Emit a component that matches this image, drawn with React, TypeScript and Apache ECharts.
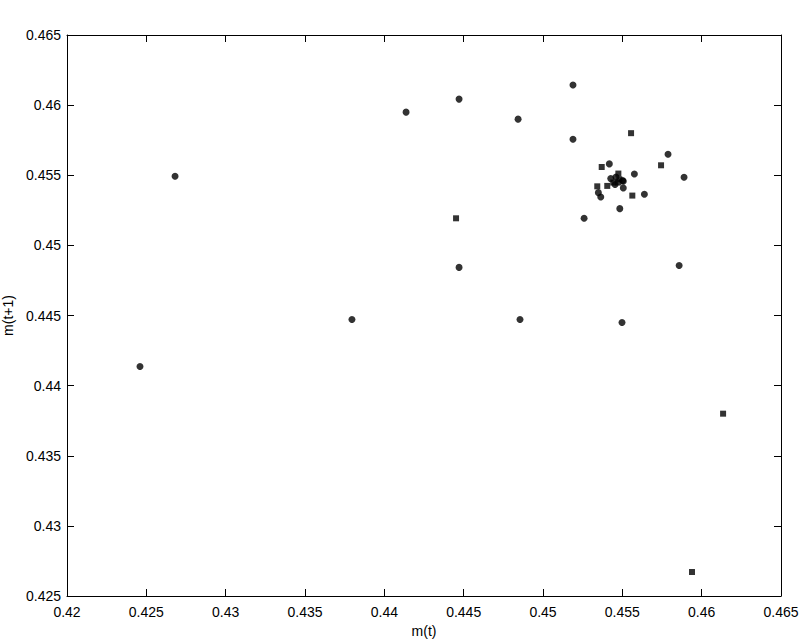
import React, { useEffect, useRef } from "react";
import * as echarts from "echarts";

const xTicks = [0.42, 0.425, 0.43, 0.435, 0.44, 0.445, 0.45, 0.455, 0.46, 0.465];
const yTicks = [0.425, 0.43, 0.435, 0.44, 0.445, 0.45, 0.455, 0.46, 0.465];

// Points drawn as round dots: [m(t), m(t+1)]
const roundPoints: number[][] = [
  [0.4246, 0.44136],
  [0.42681, 0.45493],
  [0.43796, 0.44471],
  [0.44137, 0.4595],
  [0.44471, 0.46043],
  [0.44471, 0.44843],
  [0.44843, 0.459],
  [0.44855, 0.44471],
  [0.45189, 0.46143],
  [0.45189, 0.45757],
  [0.45259, 0.45193],
  [0.45498, 0.4445],
  [0.45788, 0.4565],
  [0.45889, 0.45486],
  [0.45858, 0.44857],
  [0.45418, 0.45581],
  [0.45576, 0.45509],
  [0.45349, 0.45376],
  [0.45364, 0.45345],
  [0.45506, 0.45409],
  [0.45639, 0.45364],
  [0.45484, 0.45262],
  [0.45427, 0.45476],
  [0.4546, 0.45488],
  [0.45502, 0.45462],
  [0.45454, 0.45434],
  [0.45506, 0.45457],
];

// Points drawn as small squares: [m(t), m(t+1)]
const squarePoints: number[][] = [
  [0.44452, 0.45193],
  [0.45555, 0.458],
  [0.45744, 0.45571],
  [0.46135, 0.438],
  [0.45939, 0.42671],
  [0.4537, 0.45559],
  [0.45475, 0.45512],
  [0.45342, 0.45421],
  [0.45405, 0.45424],
  [0.45563, 0.45355],
  [0.45443, 0.45448],
  [0.45481, 0.45471],
  [0.45475, 0.45448],
];

const xLabel = "m(t)";
const yLabel = "m(t+1)";

const font = "'Liberation Sans', Arial, Helvetica, sans-serif";

export default function App() {
  const ref = useRef<HTMLDivElement>(null);
  useEffect(() => {
    if (!ref.current) return;
    const chart = echarts.init(ref.current, undefined, { renderer: "svg", width: 807, height: 639 });
    const fmt = (v: number) => String(Math.round(v * 10000) / 10000);
    const axisLine = { show: true, onZero: false, lineStyle: { color: "#000", width: 1 } };
    const tickIn = { show: true, inside: true, length: 7, lineStyle: { color: "#000", width: 1 } };
    chart.setOption({
      animation: false,
      backgroundColor: "#fff",
      grid: {
        left: 67,
        right: 26,
        top: 35,
        bottom: 43,
        containLabel: false,
        outerBoundsMode: "none",
      },
      xAxis: [
        {
          type: "value",
          min: 0.42,
          max: 0.465,
          interval: 0.005,
          position: "bottom",
          axisLine,
          axisTick: tickIn,
          splitLine: { show: false },
          axisLabel: {
            color: "#000",
            fontSize: 14,
            fontFamily: font,
            margin: 9,
            formatter: (v: number) => (xTicks.some((t) => Math.abs(t - v) < 1e-9) ? fmt(v) : ""),
          },
          name: xLabel,
          nameLocation: "middle",
          nameGap: 28,
          nameTextStyle: { color: "#000", fontSize: 14, fontFamily: font },
        },
        {
          type: "value",
          min: 0.42,
          max: 0.465,
          interval: 0.005,
          position: "top",
          axisLine,
          axisTick: tickIn,
          axisLabel: { show: false },
          splitLine: { show: false },
        },
      ],
      yAxis: [
        {
          type: "value",
          min: 0.425,
          max: 0.465,
          interval: 0.005,
          position: "left",
          axisLine,
          axisTick: tickIn,
          splitLine: { show: false },
          axisLabel: {
            color: "#000",
            fontSize: 14,
            fontFamily: font,
            margin: 6,
            formatter: (v: number) => (yTicks.some((t) => Math.abs(t - v) < 1e-9) ? fmt(v) : ""),
          },
          name: yLabel,
          nameLocation: "middle",
          nameGap: 52,
          nameRotate: 90,
          nameTextStyle: { color: "#000", fontSize: 14, lineHeight: 14, fontFamily: font },
        },
        {
          type: "value",
          min: 0.425,
          max: 0.465,
          interval: 0.005,
          position: "right",
          axisLine,
          axisTick: tickIn,
          axisLabel: { show: false },
          splitLine: { show: false },
        },
      ],
      series: [
        {
          type: "scatter",
          name: "round",
          data: roundPoints,
          symbol: "circle",
          symbolSize: 7,
          itemStyle: { color: "#000" },
        },
        {
          type: "scatter",
          name: "square",
          data: squarePoints,
          symbol: "rect",
          symbolSize: 6,
          itemStyle: { color: "#000" },
        },
      ],
    });
    return () => chart.dispose();
  }, []);
  return (
    <div
      ref={ref}
      style={{ position: "absolute", left: 0, top: 0, width: 807, height: 639, overflow: "hidden" }}
    />
  );
}
